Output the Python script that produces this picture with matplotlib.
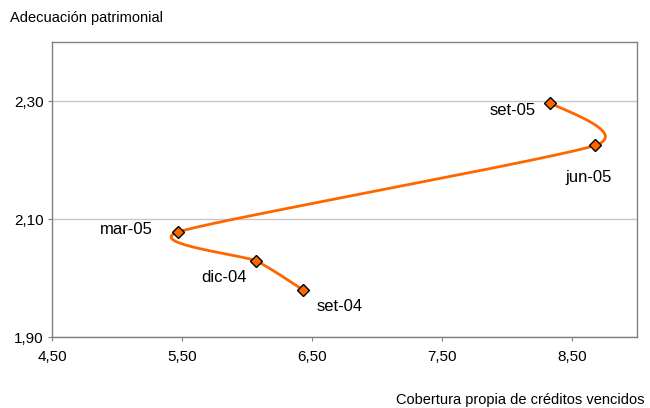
import numpy as np
import matplotlib.pyplot as plt

# cobertura propia (x) y adecuación patrimonial (y), por trimestre
periodos = ["set-04", "dic-04", "mar-05", "jun-05", "set-05"]
cobertura = [6.43, 6.07, 5.47, 8.68, 8.33]
adecuacion = [1.980, 2.029, 2.078, 2.225, 2.297]

xticks = [4.5, 5.5, 6.5, 7.5, 8.5]
yticks = [1.90, 2.10, 2.30]

naranja = "#FF6600"

plt.rcParams['font.family'] = ['Liberation Sans', 'DejaVu Sans']

fig = plt.figure(figsize=(6.5, 4.08), dpi=100)
ax = fig.add_axes([0.08, 0.174, 0.9, 0.723])
ax.set_xlim(4.5, 9.0)
ax.set_ylim(1.90, 2.40)


def suavizar(xs, ys, sx, sy, k=1 / 10, n=40):
    # curva suavizada (bezier tipo Catmull-Rom), calculada en pixeles
    p = np.column_stack([np.array(xs) * sx, np.array(ys) * sy])
    p = np.vstack([p[0], p, p[-1]])
    out = []
    t = np.linspace(0, 1, n)[:, None]
    for i in range(1, len(p) - 2):
        b0 = p[i]
        b3 = p[i + 1]
        b1 = b0 + (p[i + 1] - p[i - 1]) * k
        b2 = b3 - (p[i + 2] - p[i]) * k
        seg = ((1 - t) ** 3) * b0 + 3 * ((1 - t) ** 2) * t * b1 + 3 * (1 - t) * t ** 2 * b2 + t ** 3 * b3
        out.append(seg)
    c = np.vstack(out)
    return c[:, 0] / sx, c[:, 1] / sy


cx, cy = suavizar(cobertura, adecuacion, 130.0, 590.0)
ax.plot(cx, cy, color=naranja, lw=2.0, zorder=3, solid_capstyle='round')
ax.plot(cobertura, adecuacion, linestyle='none', marker='D', markersize=6,
        markerfacecolor=naranja, markeredgecolor='black', markeredgewidth=1.0, zorder=4)

desplaz = [(37, -17), (-32, -17), (-52, 2), (-7, -32), (-37, -8)]
for et, x, y, d in zip(periodos, cobertura, adecuacion, desplaz):
    ax.annotate(et, (x, y), xytext=d, textcoords='offset pixels',
                ha='center', va='center', fontsize=12, color='black')

ax.set_xticks(xticks)
ax.set_yticks(yticks)
ax.set_xticklabels([f"{v:.2f}".replace('.', ',') for v in xticks], fontsize=11)
ax.set_yticklabels([f"{v:.2f}".replace('.', ',') for v in yticks], fontsize=11)
ax.tick_params(axis='x', length=3, color='#808080', direction='out', pad=6)
ax.tick_params(axis='y', length=3, color='#808080', direction='out', pad=3)
ax.yaxis.grid(True, color='#c8c8c8', lw=1.0)
ax.set_axisbelow(True)
for s in ax.spines.values():
    s.set_color('#808080')
    s.set_linewidth(1.0)

fig.text(10 / 650, 1 - 18 / 408, "Adecuación patrimonial", fontsize=10.5, va='center', ha='left')
fig.text(645 / 650, 1 - 400 / 408, "Cobertura propia de créditos vencidos", fontsize=10.5,
         va='center', ha='right')

fig.savefig("out.png", dpi=100)
